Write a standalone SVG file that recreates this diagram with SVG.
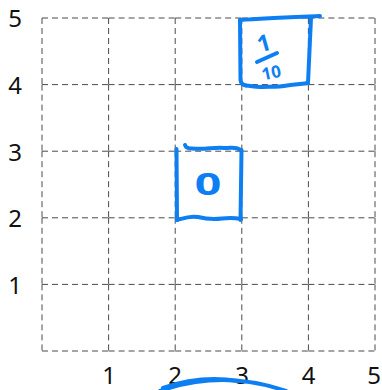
<svg xmlns="http://www.w3.org/2000/svg" width="382" height="390" viewBox="0 0 382 390">
  <style>
    .grid { fill: none; stroke: #4a4a4a; stroke-width: 1; stroke-dasharray: 6 4; }
    .ax { font-family: "Noto Sans", "Open Sans", sans-serif; font-size: 24px; fill: #111; text-anchor: middle; }
    .ink { fill: none; stroke: #0d7ff2; stroke-width: 4; stroke-linecap: round; stroke-linejoin: round; }
    .hand { font-family: "Noto Sans", "Open Sans", sans-serif; fill: #0d7ff2; text-anchor: middle; font-weight: 700; }
  </style>
  <rect width="382" height="390" fill="#fff"/>
  <g id="grid">
    <path class="grid" d="M42 18h66.6M108.6 18h66.6M175.2 18h66.6M241.8 18h66.6M308.4 18h66.6
      M42 84.6h66.6M108.6 84.6h66.6M175.2 84.6h66.6M241.8 84.6h66.6M308.4 84.6h66.6
      M42 151.2h66.6M108.6 151.2h66.6M175.2 151.2h66.6M241.8 151.2h66.6M308.4 151.2h66.6
      M42 217.8h66.6M108.6 217.8h66.6M175.2 217.8h66.6M241.8 217.8h66.6M308.4 217.8h66.6
      M42 284.4h66.6M108.6 284.4h66.6M175.2 284.4h66.6M241.8 284.4h66.6M308.4 284.4h66.6
      M42 351h66.6M108.6 351h66.6M175.2 351h66.6M241.8 351h66.6M308.4 351h66.6"/>
    <path class="grid" d="M42 18v66.6M42 84.6v66.6M42 151.2v66.6M42 217.8v66.6M42 284.4v66.6
      M108.6 18v66.6M108.6 84.6v66.6M108.6 151.2v66.6M108.6 217.8v66.6M108.6 284.4v66.6
      M175.2 18v66.6M175.2 84.6v66.6M175.2 151.2v66.6M175.2 217.8v66.6M175.2 284.4v66.6
      M241.8 18v66.6M241.8 84.6v66.6M241.8 151.2v66.6M241.8 217.8v66.6M241.8 284.4v66.6
      M308.4 18v66.6M308.4 84.6v66.6M308.4 151.2v66.6M308.4 217.8v66.6M308.4 284.4v66.6
      M375 18v66.6M375 84.6v66.6M375 151.2v66.6M375 217.8v66.6M375 284.4v66.6"/>
  </g>
  <g id="axis-labels">
    <text class="ax" x="15" y="27">5</text>
    <text class="ax" x="15" y="94">4</text>
    <text class="ax" x="15" y="160.5">3</text>
    <text class="ax" x="15" y="227">2</text>
    <text class="ax" x="15" y="293.5">1</text>
    <text class="ax" x="109" y="384">1</text>
    <text class="ax" x="175" y="384">2</text>
    <text class="ax" x="242" y="384">3</text>
    <text class="ax" x="308.5" y="384">4</text>
    <text class="ax" x="374" y="384">5</text>
  </g>
  <g id="connectors"></g>
  <g id="node-zero">
    <path class="ink" d="M185 145 Q186 148.5 192 148.5 C204 150 214 147 224 148 C231 148.5 234 146 241 150"/>
    <path class="ink" d="M176.5 149 L177 220"/>
    <path class="ink" d="M241.5 150 L240.5 220"/>
    <path class="ink" d="M177 220 C184 218 190 215.5 198 217 C206 219 214 219.5 222 218.5 C230 217.5 236 218 241 219"/>
    <text class="hand" font-size="31" font-weight="600" transform="translate(208 194.5) scale(1.5 1)">0</text>
  </g>
  <g id="node-tenth">
    <path class="ink" d="M240 20 C262 18 292 17 320 16"/>
    <path class="ink" d="M240 20 L240.5 80 Q241 85 246 85.5"/>
    <path class="ink" stroke-width="5" d="M311 18 L308 83"/>
    <path class="ink" d="M246 85.5 C252 86 256 87.5 262 87 C270 86 276 87.5 284 86 C292 84.5 300 84 308 83"/>
    <text class="hand" font-size="23" transform="translate(266 51) rotate(-16)">1</text>
    <path class="ink" d="M257 62 L277 53"/>
    <text class="hand" font-size="17" transform="translate(272.5 78.5) rotate(-12)">10</text>
  </g>
  <g id="ellipse">
    <path class="ink" stroke-width="3.5" d="M160 391 Q222 369 286 391"/>
    <path class="ink" stroke-width="1.3" d="M163 388 Q200 375 238 381"/>
  </g>
</svg>
